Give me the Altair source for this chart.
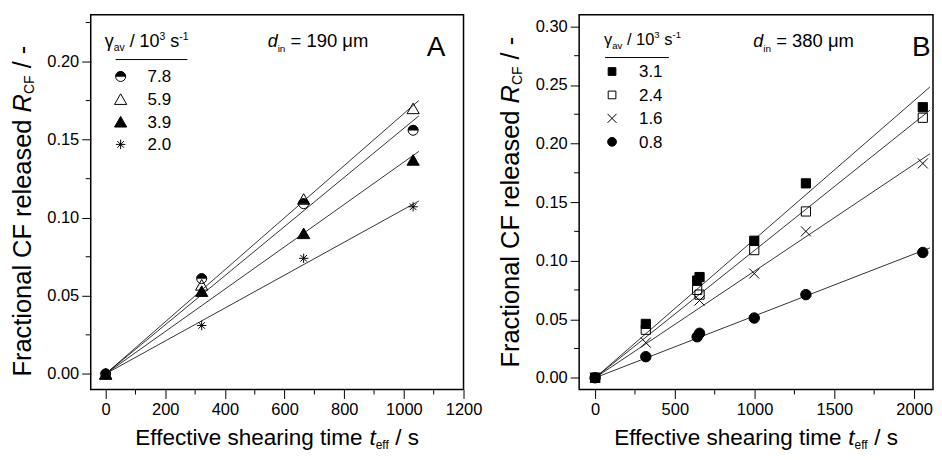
import altair as alt
import pandas as pd

FONT = "Liberation Sans"

# ---------------- data ----------------
# Panel A  (d_in = 190 um)
tA = [0, 322, 664, 1031]
A_series = ["7.8", "5.9", "3.9", "2.0"]
A_78 = [0.0, 0.061, 0.109, 0.156]
A_59 = [0.0, 0.057, 0.112, 0.170]
A_39 = [0.0, 0.053, 0.090, 0.137]
A_20 = [0.0, 0.031, 0.074, 0.107]

# Panel B  (d_in = 380 um)
B_series = ["3.1", "2.4", "1.6", "0.8"]
tB = [0, 318, 640, 655, 998, 1322, 2055]
B_31 = [0.0, 0.046, 0.083, 0.086, 0.117, 0.166, 0.231]
B_24 = [0.0, 0.041, 0.075, 0.071, 0.109, 0.142, 0.222]
tB16 = [0, 318, 655, 998, 1322, 2055]
B_16 = [0.0, 0.030, 0.066, 0.089, 0.125, 0.183]
B_08 = [0.0, 0.018, 0.035, 0.038, 0.051, 0.071, 0.107]

# ticks
xA_ticks = [0, 200, 400, 600, 800, 1000, 1200]
xA_minor = [100, 300, 500, 700, 900, 1100]
yA_ticks = [0.0, 0.05, 0.10, 0.15, 0.20]
yA_minor = [0.025, 0.075, 0.125, 0.175, 0.225]
xB_ticks = [0, 500, 1000, 1500, 2000]
xB_minor = [250, 750, 1250, 1750]
yB_ticks = [0.0, 0.05, 0.10, 0.15, 0.20, 0.25, 0.30]
yB_minor = [0.025, 0.075, 0.125, 0.175, 0.225, 0.275]

# ---------------- helpers ----------------
W = {' ': 278, '-': 333, '/': 278, '=': 584, '.': 278, 'A': 667, 'B': 667, 'C': 722,
     'E': 667, 'F': 611, 'R': 722, 'a': 556, 'c': 500, 'd': 556, 'e': 556, 'f': 278,
     'g': 556, 'h': 556, 'i': 222, 'l': 222, 'm': 833, 'n': 556, 'o': 556, 'r': 333,
     's': 500, 't': 278, 'v': 500, 'γ': 500, 'μ': 576}


def tw(s, size):
    return sum(W.get(ch, 556) for ch in s) / 1000.0 * size


def one():
    return alt.Data(values=[{"k": 0}])


def text_layer(s, x, y, size, italic=False, angle=0, align="left", baseline="alphabetic"):
    kw = dict(text=s, font=FONT, fontSize=size, color="black", align=align, baseline=baseline)
    if italic:
        kw["fontStyle"] = "italic"
    if angle:
        kw["angle"] = angle
    return alt.Chart(one()).mark_text(**kw).encode(x=alt.value(x), y=alt.value(y))


def run_h(pieces, x0, y0):
    out, x = [], x0
    for s, size, italic, off in pieces:
        lead = len(s) - len(s.lstrip())
        out.append(text_layer(s.strip(), x + lead * 0.278 * size, y0 + off, size, italic))
        x += tw(s, size)
    return out


def run_v(pieces, x0, y0):
    out, y = [], y0
    for s, size, italic, off in pieces:
        lead = len(s) - len(s.lstrip())
        out.append(text_layer(s.strip(), x0 + off, y - lead * 0.278 * size, size, italic, angle=270))
        y -= tw(s, size)
    return out


def width_of(pieces):
    return sum(tw(s, size) for s, size, _, _ in pieces)


HALF = "M-1,0A1,1,0,0,1,1,0Z"
STAR = "M0,-1L0,1M-1,0L1,0M-0.7,-0.7L0.7,0.7M-0.7,0.7L0.7,-0.7"
CROSS = "M-1,-1L1,1M-1,1L1,-1"


def pmark(shape, size, fill, sw):
    return dict(shape=shape, size=size, filled=True, fill=fill, stroke="black",
                strokeWidth=sw, opacity=1)


STYLES = {
    "7.8": [("circle", 100, "white", 1), (HALF, 100, "black", 0.5)],
    "5.9": [("triangle-up", 150, "transparent", 1)],
    "3.9": [("triangle-up", 150, "black", 1)],
    "2.0": [(STAR, 90, "transparent", 1)],
    "3.1": [("square", 85, "black", 1)],
    "2.4": [("square", 85, "transparent", 1)],
    "1.6": [(CROSS, 100, "transparent", 1)],
    "0.8": [("circle", 110, "black", 1)],
}
LEG_SCALE = {"3.1": 0.7, "2.4": 0.7, "1.6": 0.8, "0.8": 0.7}

Y_TITLE = [("Fractional CF released ", 25.5, False, 0), ("R", 25.5, True, 0),
           ("CF", 14, False, 3), (" / -", 25.5, False, 0)]
X_TITLE = [("Effective shearing time ", 22.6, False, 0), ("t", 22.6, True, 0),
           ("eff", 12, False, 4), (" / s", 22.6, False, 0)]


def leg_title(fs):
    sub = fs * 0.58
    return [("γ", fs, False, 0), ("av", sub, False, 4), (" / 10", fs, False, 0),
            ("3", sub, False, -7), (" s", fs, False, 0), ("-1", sub, False, -7)]


def panel(series, tlists, vlists, xdom, ydom, xt, xm, yt, ym, w, h, extent,
          ytitle_start, leg, din_text, din_x, letter_x):
    rows, fit_rows = [], []
    for s, tt, vv in zip(series, tlists, vlists):
        for t, v in zip(tt, vv):
            rows.append({"s": s, "t": t, "r": v})
        # least-squares line through the origin, fitted to the series
        slope = sum(t * v for t, v in zip(tt, vv)) / sum(t * t for t in tt)
        fit_rows += [{"s": s, "t": 0, "r": 0.0}, {"s": s, "t": extent, "r": slope * extent}]
    df = pd.DataFrame(rows)
    fit = pd.DataFrame(fit_rows)

    X = alt.X("t:Q", scale=alt.Scale(domain=xdom, nice=False, zero=False),
              axis=alt.Axis(values=xt, format="d", title=None))
    Y = alt.Y("r:Q", scale=alt.Scale(domain=ydom, nice=False, zero=False),
              axis=alt.Axis(values=yt, format=".2f", title=None))

    base = alt.Chart(df)
    layers = [
        alt.Chart(fit).mark_line(color="black", strokeWidth=0.8)
        .encode(x=X, y=Y, detail="s:N")
    ]
    for s in series:
        for shape, size, fill, sw in STYLES[s]:
            layers.append(
                base.transform_filter(alt.datum.s == s)
                .mark_point(**pmark(shape, size, fill, sw))
                .encode(x=X, y=Y)
            )
    # minor ticks
    layers.append(alt.Chart(pd.DataFrame({"t": xm})).mark_rule(color="black", strokeWidth=1)
                  .encode(x=X, y=alt.value(h), y2=alt.value(h + 5)))
    layers.append(alt.Chart(pd.DataFrame({"r": ym})).mark_rule(color="black", strokeWidth=1)
                  .encode(y=Y, x=alt.value(0), x2=alt.value(-5)))

    # axis titles
    layers += run_v(Y_TITLE, -60, ytitle_start)
    layers += run_h(X_TITLE, w / 2 - width_of(X_TITLE) / 2, 431.5)

    # legend
    fs, tx, ty, ux1, ux2, uy, mx, lx, y0, dy = leg
    layers += run_h(leg_title(fs), tx, ty)
    layers.append(alt.Chart(one()).mark_rule(color="black", strokeWidth=1)
                  .encode(x=alt.value(ux1), x2=alt.value(ux2), y=alt.value(uy)))
    for i, s in enumerate(series):
        yc = y0 + i * dy
        k = LEG_SCALE.get(s, 1.0)
        for shape, size, fill, sw in STYLES[s]:
            layers.append(alt.Chart(one()).mark_point(**pmark(shape, size * k, fill, sw))
                          .encode(x=alt.value(mx), y=alt.value(yc)))
        layers.append(text_layer(s, lx, yc + 6, 17))

    # annotations
    layers += run_h([("d", 18, True, 0), ("in", 10, False, 5), (din_text, 18.5, False, 0)],
                    din_x, 32.7)
    layers.append(text_layer(letter_x[0], letter_x[1], 41, 28))

    return alt.layer(*layers).properties(width=w, height=h)


chartA = panel(A_series, [tA] * 4, [A_78, A_59, A_39, A_20],
               [-50, 1200], [-0.01, 0.23], xA_ticks, xA_minor, yA_ticks, yA_minor,
               374, 376, 1050, 363,
               (18, 14, 32, 25, 97, 45, 30, 57, 62, 22.7), " = 190 μm", 177.5, ("A", 337))

chartB = panel(B_series, [tB, tB, tB16, tB], [B_31, B_24, B_16, B_08],
               [-100, 2119], [-0.01, 0.31], xB_ticks, xB_minor, yB_ticks, yB_minor,
               355, 376, 2100, 354,
               (16.5, 25, 30, 26, 90, 43, 33, 60, 57, 23.5), " = 380 μm", 174.7, ("B", 334))

chart = (
    alt.hconcat(chartA, chartB, spacing=15)
    .properties(padding={"left": 2, "top": 5, "right": 0, "bottom": 0})
    .configure_view(stroke="black", strokeWidth=1.5)
    .configure_axis(labelFont=FONT, labelFontSize=16.5, labelColor="black",
                    tickColor="black", tickSize=9, tickWidth=1, domain=False,
                    grid=False, labelPadding=3, labelFlush=False)
)

chart.save("out.html", embed_options={"renderer": "svg", "actions": False})
